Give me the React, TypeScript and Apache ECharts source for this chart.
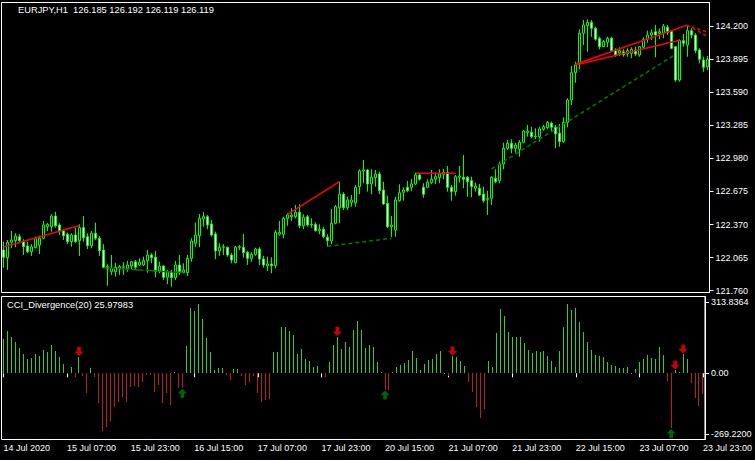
import React, { useEffect, useRef } from 'react';
import * as echarts from 'echarts';

// ---- time axis (H1 bars, weekend gap) ----
const dayStarts: number[][] = [[14, 15], [15, 0], [16, 0], [17, 0], [20, 0], [21, 0], [22, 0], [23, 0]];
const categories: string[] = [];
dayStarts.forEach(([d, h0]) => {
  for (let h = h0; h < 24; h++) categories.push(`${d} Jul ${String(h).padStart(2, '0')}:00`);
});
const firstLabel = '14 Jul 2020';
const labelStep = 16;

// ---- axis ticks ----
const priceTicks = [124.2, 123.895, 123.59, 123.285, 122.98, 122.675, 122.37, 122.065, 121.76];
const cciTicks = [313.8364, 0, -269.22];
const cciTickLabels = ['313.8364', '0.00', '-269.2200'];

// ---- texts ----
const symbolTitle = 'EURJPY,H1  126.185 126.192 126.119 126.119';
const indicatorTitle = 'CCI_Divergence(20) 25.97983';

// ---- candles [open, close, low, high] ----
const candles: number[][] = [
  [122.135, 122.068, 121.972, 122.212], [122.064, 122.206, 121.951, 122.227], [122.206, 122.227, 122.151, 122.310],
  [122.221, 122.264, 122.160, 122.289], [122.258, 122.221, 122.197, 122.283], [122.212, 122.165, 122.089, 122.234],
  [122.172, 122.119, 122.105, 122.212], [122.119, 122.165, 122.080, 122.188], [122.156, 122.243, 122.151, 122.258],
  [122.181, 122.243, 122.098, 122.267], [122.243, 122.366, 122.234, 122.402], [122.350, 122.372, 122.310, 122.384],
  [122.350, 122.448, 122.304, 122.464], [122.448, 122.359, 122.341, 122.488], [122.366, 122.310, 122.273, 122.381],
  [122.310, 122.267, 122.227, 122.326], [122.280, 122.212, 122.188, 122.295], [122.212, 122.273, 122.165, 122.289],
  [122.273, 122.212, 122.202, 122.341], [122.221, 122.341, 122.080, 122.372], [122.341, 122.248, 122.212, 122.448],
  [122.258, 122.175, 122.144, 122.289], [122.175, 122.289, 122.151, 122.310], [122.289, 122.243, 122.227, 122.387],
  [122.243, 122.129, 122.080, 122.264], [122.135, 121.972, 121.966, 122.188], [121.981, 121.960, 121.806, 122.003],
  [121.935, 121.966, 121.905, 122.089], [121.935, 121.976, 121.889, 122.018], [121.966, 121.981, 121.905, 121.997],
  [121.976, 121.978, 121.905, 122.022], [121.966, 121.997, 121.935, 122.036], [121.987, 122.027, 121.957, 122.036],
  [122.027, 121.976, 121.951, 122.043], [121.997, 122.022, 121.987, 122.058], [121.997, 122.036, 121.987, 122.073],
  [122.036, 122.089, 121.926, 122.135], [122.089, 122.064, 122.012, 122.105], [122.068, 121.935, 121.883, 122.126],
  [121.941, 121.987, 121.920, 122.027], [121.987, 121.883, 121.858, 121.997], [121.883, 121.935, 121.819, 121.951],
  [121.926, 121.880, 121.797, 121.951], [121.880, 121.997, 121.858, 122.034], [121.997, 121.935, 121.905, 122.089],
  [121.926, 121.951, 121.920, 122.012], [121.926, 122.058, 121.895, 122.089], [122.058, 122.218, 122.027, 122.243],
  [122.197, 122.273, 122.165, 122.387], [122.267, 122.427, 122.160, 122.467], [122.421, 122.442, 122.350, 122.483],
  [122.442, 122.366, 122.326, 122.458], [122.375, 122.273, 122.258, 122.412], [122.283, 122.126, 122.052, 122.304],
  [122.126, 122.160, 122.080, 122.197], [122.160, 122.165, 122.089, 122.190], [122.160, 122.089, 122.073, 122.165],
  [122.089, 122.043, 122.012, 122.105], [122.018, 122.160, 122.012, 122.172], [122.160, 122.165, 122.135, 122.181],
  [122.160, 122.110, 122.064, 122.283], [122.114, 122.058, 121.997, 122.126], [122.058, 122.095, 122.027, 122.114],
  [122.095, 122.144, 122.082, 122.156], [122.144, 122.052, 121.997, 122.160], [122.052, 121.997, 121.972, 122.082],
  [121.990, 122.006, 121.941, 122.073], [122.006, 121.990, 121.920, 122.068], [121.990, 122.298, 121.966, 122.319],
  [122.280, 122.298, 122.267, 122.402], [122.280, 122.427, 122.243, 122.442], [122.427, 122.458, 122.359, 122.473],
  [122.442, 122.458, 122.402, 122.519], [122.442, 122.483, 122.427, 122.550], [122.483, 122.359, 122.335, 122.556],
  [122.359, 122.437, 122.329, 122.464], [122.442, 122.366, 122.350, 122.458], [122.366, 122.372, 122.341, 122.427],
  [122.372, 122.313, 122.304, 122.390], [122.313, 122.326, 122.280, 122.372], [122.326, 122.258, 122.243, 122.350],
  [122.252, 122.221, 122.165, 122.280], [122.218, 122.381, 122.188, 122.513], [122.381, 122.534, 122.372, 122.550],
  [122.525, 122.649, 122.381, 122.765], [122.649, 122.525, 122.504, 122.667], [122.525, 122.596, 122.504, 122.626],
  [122.575, 122.596, 122.534, 122.642], [122.571, 122.713, 122.534, 122.734], [122.719, 122.863, 122.651, 122.879],
  [122.863, 122.873, 122.750, 122.965], [122.873, 122.744, 122.673, 122.879], [122.744, 122.805, 122.649, 122.879],
  [122.802, 122.836, 122.719, 122.873], [122.836, 122.682, 122.651, 122.857], [122.688, 122.559, 122.550, 122.765],
  [122.566, 122.350, 122.335, 122.636], [122.350, 122.366, 122.255, 122.448], [122.319, 122.596, 122.258, 122.626],
  [122.590, 122.663, 122.580, 122.741], [122.667, 122.688, 122.590, 122.713], [122.713, 122.682, 122.667, 122.771],
  [122.713, 122.744, 122.679, 122.790], [122.744, 122.827, 122.734, 122.848], [122.827, 122.787, 122.774, 122.842],
  [122.713, 122.649, 122.617, 122.750], [122.713, 122.759, 122.704, 122.787], [122.756, 122.787, 122.741, 122.873],
  [122.787, 122.811, 122.741, 122.848], [122.802, 122.836, 122.750, 122.879], [122.833, 122.851, 122.787, 122.882],
  [122.851, 122.713, 122.673, 122.909], [122.713, 122.673, 122.590, 122.734], [122.673, 122.811, 122.636, 122.827],
  [122.805, 122.817, 122.756, 122.909], [122.805, 122.787, 122.704, 123.011], [122.805, 122.765, 122.626, 122.817],
  [122.774, 122.719, 122.621, 122.811], [122.704, 122.725, 122.673, 122.756], [122.704, 122.642, 122.633, 122.744],
  [122.651, 122.590, 122.571, 122.719], [122.602, 122.612, 122.458, 122.682], [122.612, 122.805, 122.550, 122.817],
  [122.796, 122.765, 122.750, 122.879], [122.774, 122.928, 122.750, 122.949], [122.928, 123.073, 122.879, 123.124],
  [123.073, 123.119, 123.057, 123.149], [123.119, 123.073, 123.027, 123.156], [123.073, 123.103, 123.032, 123.124],
  [123.063, 123.128, 122.995, 123.149], [123.128, 123.232, 123.119, 123.241], [123.217, 123.232, 123.180, 123.288],
  [123.220, 123.180, 123.165, 123.272], [123.180, 123.186, 123.156, 123.257], [123.180, 123.251, 123.134, 123.272],
  [123.248, 123.272, 123.235, 123.288], [123.263, 123.312, 123.248, 123.324], [123.303, 123.266, 123.226, 123.318],
  [123.266, 123.205, 123.073, 123.288], [123.211, 123.134, 123.087, 123.297], [123.134, 123.312, 123.124, 123.358],
  [123.312, 123.518, 123.266, 123.534], [123.518, 123.770, 123.472, 123.831], [123.770, 123.841, 123.677, 123.871],
  [123.856, 124.133, 123.801, 124.170], [124.133, 124.210, 124.025, 124.256], [124.203, 124.234, 123.963, 124.262],
  [124.234, 124.179, 124.102, 124.256], [124.179, 124.078, 124.065, 124.194], [124.087, 124.010, 123.986, 124.102],
  [124.010, 124.056, 124.004, 124.071], [124.050, 124.087, 124.004, 124.102], [124.087, 123.973, 123.963, 124.102],
  [123.979, 123.933, 123.917, 123.995], [123.949, 123.973, 123.924, 124.004], [123.963, 123.933, 123.917, 123.986],
  [123.942, 123.973, 123.917, 123.995], [123.949, 123.986, 123.903, 124.004], [123.979, 123.942, 123.924, 124.010],
  [123.933, 124.010, 123.917, 124.016], [124.004, 124.078, 123.986, 124.096], [124.078, 124.117, 124.046, 124.157],
  [124.117, 124.139, 124.071, 124.170], [124.148, 124.117, 123.912, 124.210], [124.133, 124.148, 124.078, 124.179],
  [124.133, 124.200, 124.087, 124.219], [124.188, 124.139, 124.117, 124.210], [124.148, 123.995, 123.986, 124.157],
  [124.010, 123.702, 123.687, 124.016], [123.702, 124.065, 123.687, 124.078], [124.065, 124.041, 124.010, 124.127],
  [124.025, 124.157, 123.917, 124.200], [124.157, 124.117, 124.087, 124.179], [124.117, 123.973, 123.949, 124.133],
  [123.979, 123.893, 123.856, 123.995], [123.887, 123.819, 123.779, 123.917], [123.825, 123.893, 123.795, 123.924],
];

// ---- CCI histogram ----
const cci: number[] = [
  152, 187, 162, 140, 110, 85, 63, 68, 84, 77,
  103, 96, 125, 97, 74, 41, 3, 27, -18, 74,
  -10, -88, 22, -18, -130, -253, -236, -209, -147, -125,
  -106, -125, -59, -54, -59, -37, -7, -7, -81, -52,
  -130, -85, -140, 6, -66, -66, 122, 290, 275, 306,
  239, 158, 96, 15, 22, 24, -7, -29, 18, 18,
  -12, -52, -37, -12, -88, -125, -118, -115, 96, 96,
  206, 206, 187, 169, 85, 108, 62, 56, 27, 32,
  2, -15, 52, 125, 162, 106, 137, 115, 189, 231,
  191, 113, 125, 115, 52, 7, -74, -74, 7, 29,
  37, 44, 59, 99, 66, 15, 41, 59, 63, 85,
  99, 3, -12, 77, 71, 56, 32, -37, -81, -147,
  -196, -158, 55, 27, 180, 284, 253, 184, 162, 159,
  162, 133, 103, 91, 99, 96, 99, 77, 55, 29,
  99, 206, 306, 280, 290, 228, 181, 137, 103, 81,
  77, 74, 52, 37, 32, 22, 25, 29, 3, 19,
  52, 63, 81, 69, 63, 115, 81, -32, -243, 15,
  7, 85, 62, -44, -107, -143, -91,
];
const sellArrowBars = [19, 84, 113, 169, 171];
const buyArrowBars = [45, 96, 168];

// ---- divergence lines [startBar, startPrice, endBar, endPrice] ----
const bearLines: number[][] = [
  [0, 122.163, 19, 122.361],
  [71, 122.464, 84, 122.765],
  [103, 122.842, 113, 122.842],
  [143, 123.847, 171, 124.210],
  [143, 123.841, 169, 124.068],
];
const bearProjections: number[][] = [
  [171, 124.205, 176, 124.104],
  [172, 124.190, 176, 124.145],
];
const bullLines: number[][] = [
  [25, 121.972, 45, 121.926],
  [81, 122.169, 97, 122.243],
  [122, 122.882, 168, 123.938],
];

const FONT = '"Liberation Sans", Arial, sans-serif';
const WHITE = '#ffffff';
const CANDLE = '#00ff00';
const UP_BAR = '#32cd32';
const DOWN_BAR = '#b22222';

const ARROW_DOWN = 'path://M3,0L7,0L7,5L10,5L5,10L0,5L3,5Z';
const ARROW_UP = 'path://M5,0L10,5L7,5L7,10L3,10L3,5L0,5Z';

function seg(l: number[]) {
  return [[l[0], l[1]], [l[2], l[3]]];
}

function buildOption(): any {
  const showLabel = (i: number) => i % labelStep === 0;
  const lineSeries: any[] = [];
  bearLines.forEach((l) => lineSeries.push({
    type: 'line', xAxisIndex: 0, yAxisIndex: 0, data: seg(l), symbol: 'none', silent: true,
    lineStyle: { color: '#ff0000', width: 1.5 }, z: 3,
  }));
  bearProjections.forEach((l) => lineSeries.push({
    type: 'line', xAxisIndex: 0, yAxisIndex: 0, data: seg(l), symbol: 'none', silent: true,
    lineStyle: { color: '#ff0000', width: 1.5, type: [3, 3] }, z: 3,
  }));
  bullLines.forEach((l, k) => lineSeries.push({
    type: 'line', xAxisIndex: 0, yAxisIndex: 0, data: seg(l), symbol: 'none', silent: true,
    lineStyle: { color: '#007a00', width: 1.5, type: k === 0 ? [12, 2] : [4, 3] }, z: 3,
  }));

  return {
    animation: false,
    backgroundColor: '#000000',
    grid: [
      { left: 1.5, right: 45.5, top: 2.5, height: 290, show: true, borderColor: WHITE, borderWidth: 1, backgroundColor: 'transparent' },
      { left: 1.5, right: 45.5, top: 296.5, height: 143, show: true, borderColor: WHITE, borderWidth: 1, backgroundColor: 'transparent' },
    ],
    graphic: [
      { type: 'text', left: 18, top: 5, silent: true, style: { text: symbolTitle, fill: WHITE, font: `9.3px ${FONT}` } },
      { type: 'text', left: 7, top: 300, silent: true, style: { text: indicatorTitle, fill: WHITE, font: `9.3px ${FONT}` } },
    ],
    xAxis: [
      {
        type: 'category', gridIndex: 0, data: categories, boundaryGap: true,
        axisLine: { show: false }, axisTick: { show: false }, axisLabel: { show: false }, splitLine: { show: false },
      },
      {
        type: 'category', gridIndex: 1, data: categories, boundaryGap: true,
        axisLine: { show: false },
        axisTick: { show: true, alignWithLabel: true, interval: (i: number) => showLabel(i), length: 4, lineStyle: { color: WHITE } },
        axisLabel: {
          interval: (i: number) => showLabel(i),
          formatter: (v: string, i: number) => (i === 0 ? firstLabel : v),
          align: 'left', color: WHITE, fontSize: 9, fontFamily: FONT, margin: 4,
        },
        splitLine: { show: false },
      },
    ],
    yAxis: [
      {
        type: 'value', gridIndex: 0, position: 'right', min: 121.743, max: 124.417,
        splitLine: { show: false },
        axisLine: { show: true, lineStyle: { color: WHITE } },
        axisTick: { show: true, length: 4, lineStyle: { color: WHITE }, customValues: priceTicks },
        axisLabel: { color: WHITE, fontSize: 9, fontFamily: FONT, margin: 6, customValues: priceTicks, formatter: (v: number) => v.toFixed(3) },
      },
      {
        type: 'value', gridIndex: 1, position: 'right', min: -292, max: 339,
        splitLine: { show: false },
        axisLine: { show: true, lineStyle: { color: WHITE } },
        axisTick: { show: true, length: 4, lineStyle: { color: WHITE }, customValues: cciTicks },
        axisLabel: {
          color: WHITE, fontSize: 9, fontFamily: FONT, margin: 6, customValues: cciTicks,
          formatter: (v: number) => {
            const k = cciTicks.findIndex((t) => Math.abs(t - v) < 1e-6);
            return k >= 0 ? cciTickLabels[k] : '';
          },
        },
      },
    ],
    series: [
      {
        type: 'candlestick', xAxisIndex: 0, yAxisIndex: 0, data: candles, barWidth: 2, silent: true,
        itemStyle: {
          color: '#000000', color0: '#ffffff', borderColor: CANDLE, borderColor0: CANDLE, borderColorDoji: CANDLE, borderWidth: 1,
        },
      },
      ...lineSeries,
      {
        type: 'custom', xAxisIndex: 1, yAxisIndex: 1, silent: true,
        data: cci.map((v, i) => [i, v]),
        encode: { x: 0, y: 1 },
        renderItem: (params: any, api: any) => {
          const i = api.value(0);
          const v = api.value(1);
          const p0 = api.coord([i, 0]);
          const p1 = api.coord([i, v]);
          const x = Math.floor(p0[0]);
          const yTop = Math.round(Math.min(p0[1], p1[1]));
          const yBot = Math.round(Math.max(p0[1], p1[1]));
          return {
            type: 'rect',
            shape: { x, y: yTop, width: 1, height: Math.max(1, yBot - yTop) },
            style: { fill: v >= 0 ? UP_BAR : DOWN_BAR },
          };
        },
      },
      {
        type: 'scatter', xAxisIndex: 1, yAxisIndex: 1, silent: true, symbol: ARROW_DOWN, symbolSize: [9, 9], symbolOffset: [0, -5],
        itemStyle: { color: '#ff0000' }, z: 4,
        data: sellArrowBars.map((i) => [i, cci[i]]),
      },
      {
        type: 'scatter', xAxisIndex: 1, yAxisIndex: 1, silent: true, symbol: ARROW_UP, symbolSize: [9, 9], symbolOffset: [0, 5],
        itemStyle: { color: '#008000' }, z: 4,
        data: buyArrowBars.map((i) => [i, cci[i]]),
      },
    ],
  };
}

export default function App() {
  const ref = useRef<HTMLDivElement>(null);
  useEffect(() => {
    if (!ref.current) return;
    const chart = echarts.init(ref.current, undefined, { renderer: 'svg' });
    chart.setOption(buildOption());
    return () => chart.dispose();
  }, []);
  return <div ref={ref} style={{ position: 'fixed', left: 0, top: 0, width: 755, height: 460, background: '#000' }} />;
}
